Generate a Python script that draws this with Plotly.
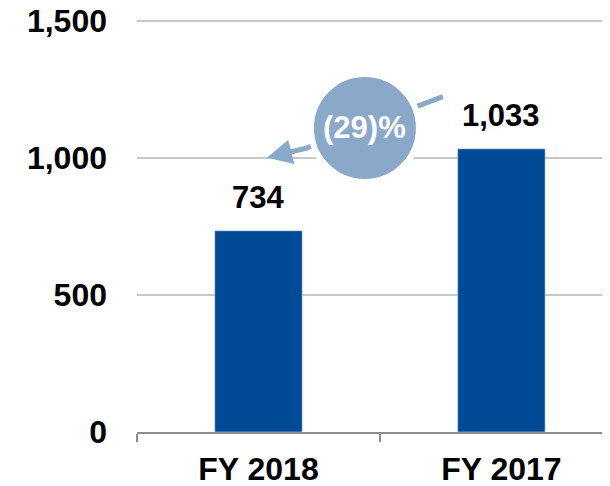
import plotly.graph_objects as go

categories = ["FY 2018", "FY 2017"]
values = [734, 1033]
value_labels = ["734", "1,033"]
y_ticks = [0, 500, 1000, 1500]
y_tick_labels = ["0", "500", "1,000", "1,500"]
change_label = "(29)%"

BAR = "#004A96"
BUBBLE = "#8AA8C8"
FONT = "Arial, Liberation Sans, sans-serif"

fig = go.Figure(go.Bar(x=categories, y=values, marker_color=BAR, width=0.36))

for c, v, t in zip(categories, values, value_labels):
    fig.add_annotation(x=c, y=v, text=f"<b>{t}</b>", showarrow=False,
                       yanchor="bottom", yshift=14,
                       font=dict(size=31, color="black", family=FONT))

# connector: line behind bubble, arrow head at tip
tip_x, tip_y = 0.035, 1000
tail_x, tail_y = 0.759, 1223
fig.add_shape(type="line", xref="x", yref="y", x0=tail_x, y0=tail_y, x1=0.2, y1=1036,
              line=dict(color=BUBBLE, width=5))
fig.add_annotation(x=tip_x, y=tip_y, ax=0.21, ay=1038, axref="x", ayref="y",
                   xref="x", yref="y", text="", showarrow=True,
                   arrowhead=2, arrowsize=1, arrowwidth=5, arrowcolor=BUBBLE)
cx, cy = 0.438, 1109
fig.add_shape(type="circle", xref="x", yref="y", xsizemode="pixel", ysizemode="pixel",
              xanchor=cx, yanchor=cy, x0=-54, x1=54, y0=-54, y1=54,
              fillcolor=BUBBLE, line=dict(color="white", width=6))
fig.add_annotation(x=cx, y=cy, text=f"<b>{change_label}</b>", showarrow=False,
                   font=dict(size=31, color="white", family=FONT))

# page body adds an 8px offset; size the figure to end at the window edge
fig.update_layout(
    width=602, height=478,
    margin=dict(l=129, r=0, t=10, b=54),
    paper_bgcolor="white", plot_bgcolor="white",
    showlegend=False,
    font=dict(family=FONT, size=32, color="black"),
    xaxis=dict(range=[-0.5, 1.447], showgrid=False, showline=True, automargin=False,
               linecolor="#8C8C8C", linewidth=2, ticks="outside", ticklen=8,
               tickcolor="#8C8C8C", tickwidth=2, tickson="boundaries",
               tickfont=dict(size=32, family=FONT, color="black"),
               tickprefix="<b>", ticksuffix="</b>", ticklabelstandoff=8),
    yaxis=dict(range=[0, 1510], tickvals=y_ticks, ticktext=[f"<b>{t}</b>" for t in y_tick_labels],
               showgrid=True, gridcolor="#C8C8C8", gridwidth=2, zeroline=False,
               showline=False, ticks="", ticklabelstandoff=29, automargin=False,
               ticklabeloverflow="allow",
               tickfont=dict(size=32, family=FONT, color="black")),
)

fig.write_html("out.html")
